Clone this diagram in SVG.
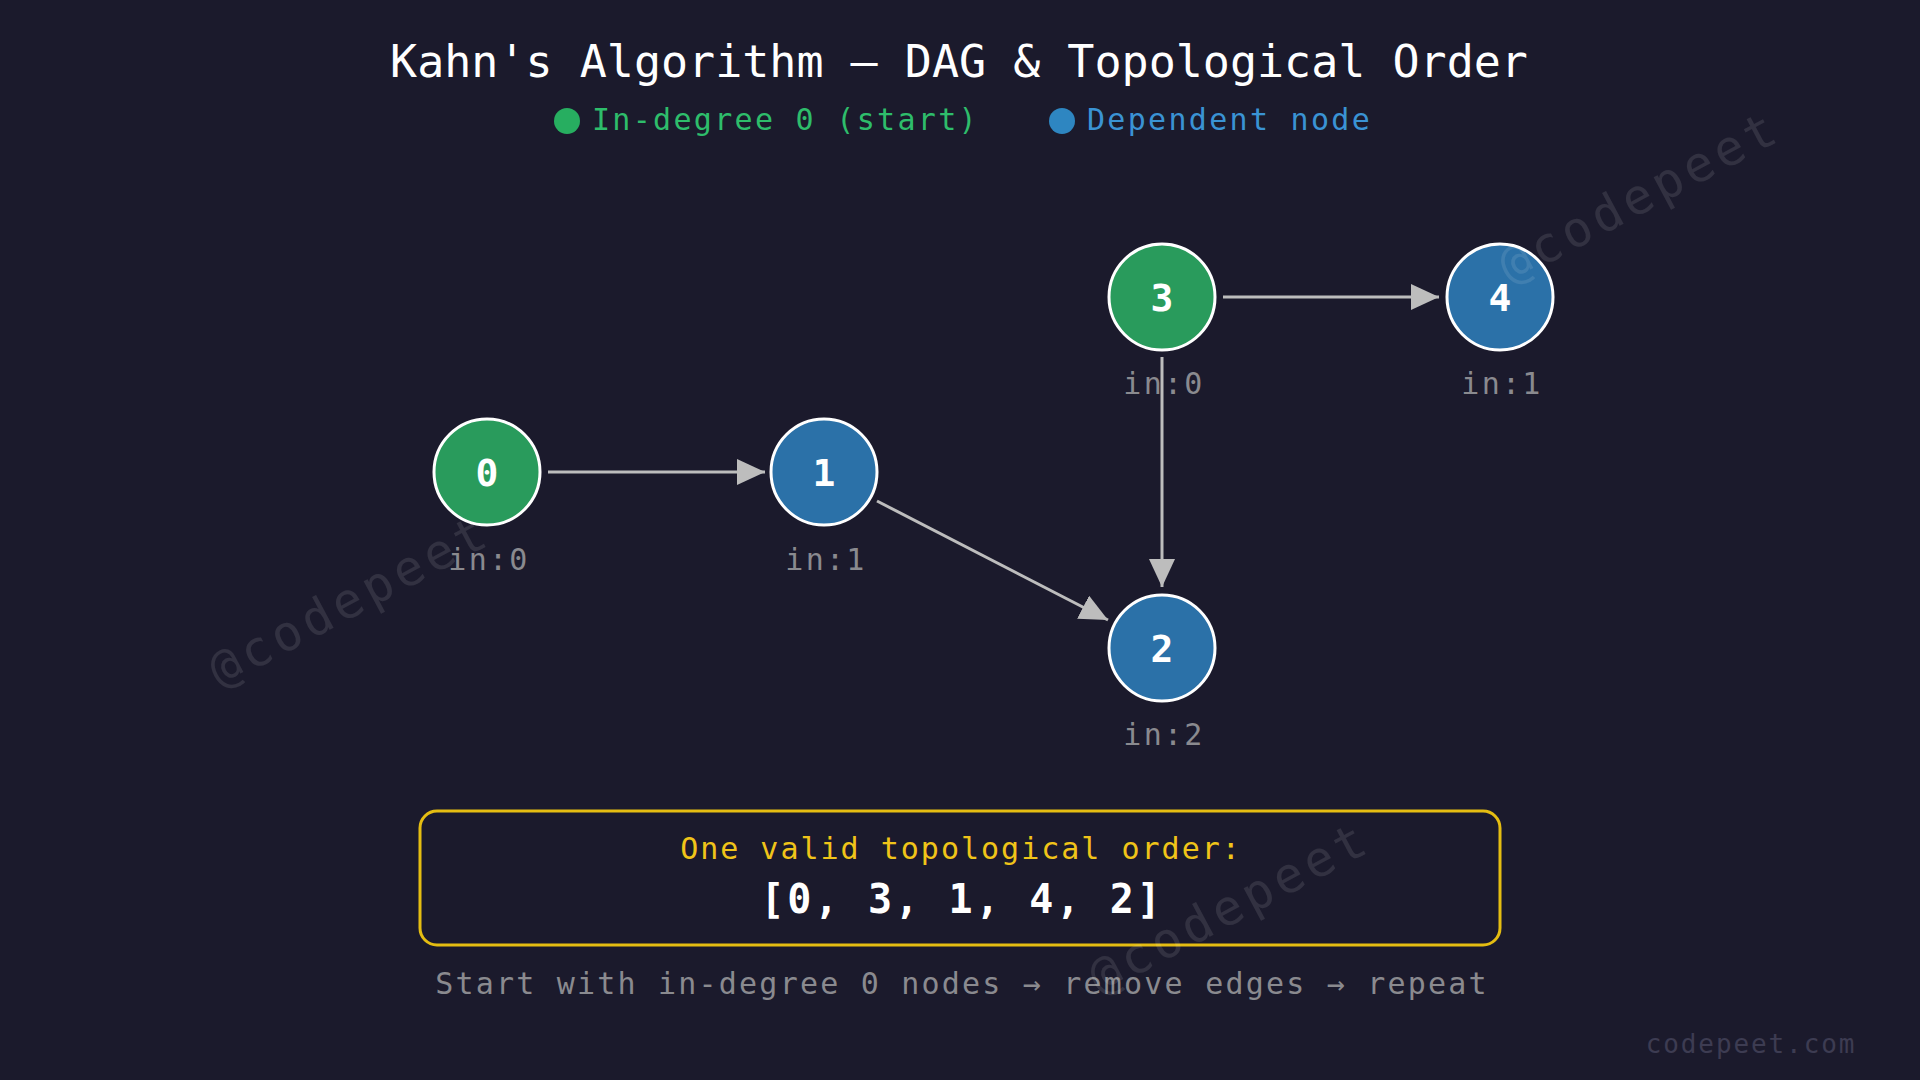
<svg xmlns="http://www.w3.org/2000/svg" width="1920" height="1080" viewBox="0 0 1920 1080">
<defs>
<style>
text{font-family:"DejaVu Sans Mono","Liberation Mono",monospace;}
.title{font-size:45px;fill:#ffffff;text-anchor:middle;}
.leg{font-size:30px;letter-spacing:2.3px;}
.node circle{stroke:#ffffff;stroke-width:3;}
.start circle{fill:#299b5c;}
.dep circle{fill:#2b71a8;}
.num{font-size:38px;font-weight:bold;fill:#ffffff;text-anchor:middle;}
.deg{font-size:30px;letter-spacing:2.3px;fill:#8a8a8f;text-anchor:middle;}
.edge{stroke:#bdbdbd;stroke-width:3;fill:none;}
.wm{font-size:49px;letter-spacing:5px;fill:#ffffff;fill-opacity:0.1;}
</style>
<marker id="arrh" viewBox="0 0 28 26" refX="28" refY="13" markerWidth="28" markerHeight="26" markerUnits="userSpaceOnUse" orient="auto">
<path d="M0,0 L28,13 L0,26 Z" fill="#bdbdbd"/>
</marker>
</defs>
<rect width="1920" height="1080" fill="#1b1a2c"/>
<text class="title" x="959" y="77">Kahn's Algorithm — DAG &amp; Topological Order</text>
<g id="legend">
<circle cx="567" cy="121" r="13" fill="#27ae60"/>
<text class="leg" x="592" y="130" fill="#2ebd6b">In-degree 0 (start)</text>
<circle cx="1062" cy="121" r="13" fill="#2e86c1"/>
<text class="leg" x="1087" y="130" fill="#3a93d4">Dependent node</text>
</g>
<g id="connectors">
<line class="edge" x1="548" y1="472" x2="765" y2="472" marker-end="url(#arrh)"/>
<line class="edge" x1="1223" y1="297" x2="1439" y2="297" marker-end="url(#arrh)"/>
<line class="edge" x1="1162" y1="357" x2="1162" y2="587" marker-end="url(#arrh)"/>
<line class="edge" x1="877" y1="501" x2="1108" y2="620" marker-end="url(#arrh)"/>
</g>
<g id="node0" class="node start">
<circle cx="487" cy="472" r="53"/>
<text class="num" x="487" y="486">0</text>
<text class="deg" x="489" y="570">in:0</text>
</g>
<g id="node1" class="node dep">
<circle cx="824" cy="472" r="53"/>
<text class="num" x="824" y="486">1</text>
<text class="deg" x="826" y="570">in:1</text>
</g>
<g id="node3" class="node start">
<circle cx="1162" cy="297" r="53"/>
<text class="num" x="1162" y="311">3</text>
<text class="deg" x="1164" y="394">in:0</text>
</g>
<g id="node4" class="node dep">
<circle cx="1500" cy="297" r="53"/>
<text class="num" x="1500" y="311">4</text>
<text class="deg" x="1502" y="394">in:1</text>
</g>
<g id="node2" class="node dep">
<circle cx="1162" cy="648" r="53"/>
<text class="num" x="1162" y="662">2</text>
<text class="deg" x="1164" y="745">in:2</text>
</g>
<g id="result">
<rect x="420" y="811" width="1080" height="134" rx="17" fill="none" stroke="#e5bd12" stroke-width="3"/>
<text x="961" y="859" font-size="30" letter-spacing="2" fill="#f0c419" text-anchor="middle">One valid topological order:</text>
<text x="962" y="913" font-size="40" font-weight="bold" letter-spacing="2.8" fill="#ffffff" text-anchor="middle">[0, 3, 1, 4, 2]</text>
</g>
<text x="962" y="994" font-size="30" letter-spacing="2.2" fill="#8a8a8f" text-anchor="middle">Start with in-degree 0 nodes → remove edges → repeat</text>
<text x="1751" y="1053" font-size="26" letter-spacing="1.9" fill="#3d3c52" text-anchor="middle">codepeet.com</text>
<g id="watermarks">
<text class="wm" transform="translate(220,688) rotate(-28)">@codepeet</text>
<text class="wm" transform="translate(1510,284) rotate(-28)">@codepeet</text>
<text class="wm" transform="translate(1100,995) rotate(-28)">@codepeet</text>
</g>
</svg>
